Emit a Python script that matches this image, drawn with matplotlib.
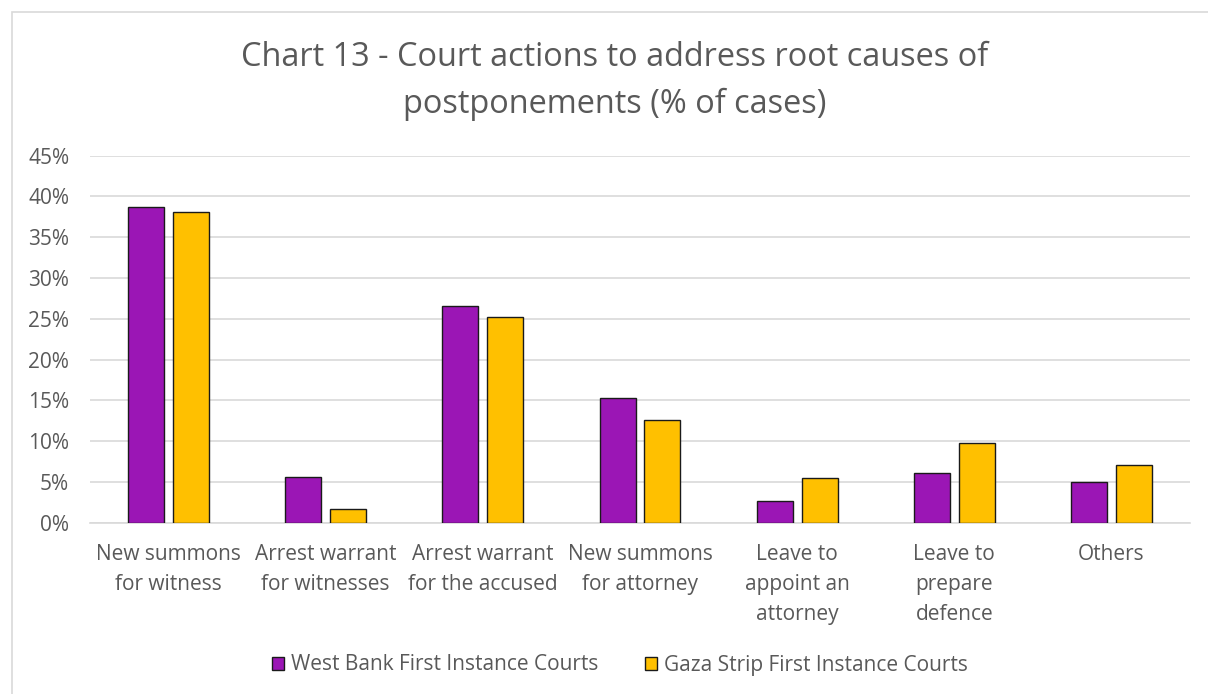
import matplotlib
matplotlib.use("Agg")
import matplotlib.pyplot as plt
from matplotlib.patches import Rectangle
import numpy as np

categories = ["New summons\nfor witness", "Arrest warrant\nfor witnesses", "Arrest warrant\nfor the accused",
              "New summons\nfor attorney", "Leave to\nappoint an\nattorney", "Leave to\nprepare\ndefence", "Others"]
west_bank = [38.7, 5.6, 26.6, 15.3, 2.6, 6.1, 5.0]
gaza = [38.1, 1.7, 25.2, 12.6, 5.5, 9.8, 7.1]
series_names = ["West Bank First Instance Courts", "Gaza Strip First Instance Courts"]
yticks = [0, 5, 10, 15, 20, 25, 30, 35, 40, 45]

plt.rcParams['font.family'] = ['Open Sans', 'DejaVu Sans']
TXT = '#595959'

fig = plt.figure(figsize=(12.08, 6.94), dpi=100)
fig.patches.append(Rectangle((12/1208, -0.01), 1.0, 1 - 12/694 + 0.01, transform=fig.transFigure,
                             fill=False, edgecolor='#D9D9D9', linewidth=1.2))
ax = fig.add_axes([90/1208, 1 - 522.7/694, 1100/1208, (522.7 - 155.7)/694])

x = np.arange(len(categories))
w = 0.229
off = 0.143
ax.bar(x - off, west_bank, width=w, color='#9B16B5', edgecolor='#1a1a1a', linewidth=1.0,
       label=series_names[0], zorder=3)
ax.bar(x + off, gaza, width=w, color='#FFC000', edgecolor='#1a1a1a', linewidth=1.0,
       label=series_names[1], zorder=3)

ax.set_xlim(-0.5, len(categories) - 0.5)
ax.set_ylim(0, 45)
ax.set_yticks(yticks)
ax.set_yticklabels([f"{t}%" for t in yticks], fontsize=15, color=TXT)
ax.set_xticks(x)
ax.set_xticklabels(categories, fontsize=15, color=TXT, linespacing=1.58)
ax.tick_params(axis='both', length=0)
ax.tick_params(axis='x', pad=15)
ax.tick_params(axis='y', pad=15)
ax.yaxis.grid(True, color='#D9D9D9', linewidth=1.2, zorder=0)
for s in ['top', 'right', 'left']:
    ax.spines[s].set_visible(False)
ax.spines['bottom'].set_color('#D9D9D9')
ax.spines['bottom'].set_linewidth(1.2)

fig.text(615/1208, 1 - 81/694, "Chart 13 - Court actions to address root causes of\npostponements (% of cases)",
         ha='center', va='center', fontsize=23.4, color=TXT, linespacing=1.52)

fig.legend(loc='center', bbox_to_anchor=(620/1208, 1 - 665/694), ncol=2, frameon=False,
           fontsize=15, labelcolor=TXT, handlelength=0.6, handleheight=0.6, handletextpad=0.35,
           columnspacing=2.2)

fig.savefig("out.png", dpi=100, facecolor='white')
